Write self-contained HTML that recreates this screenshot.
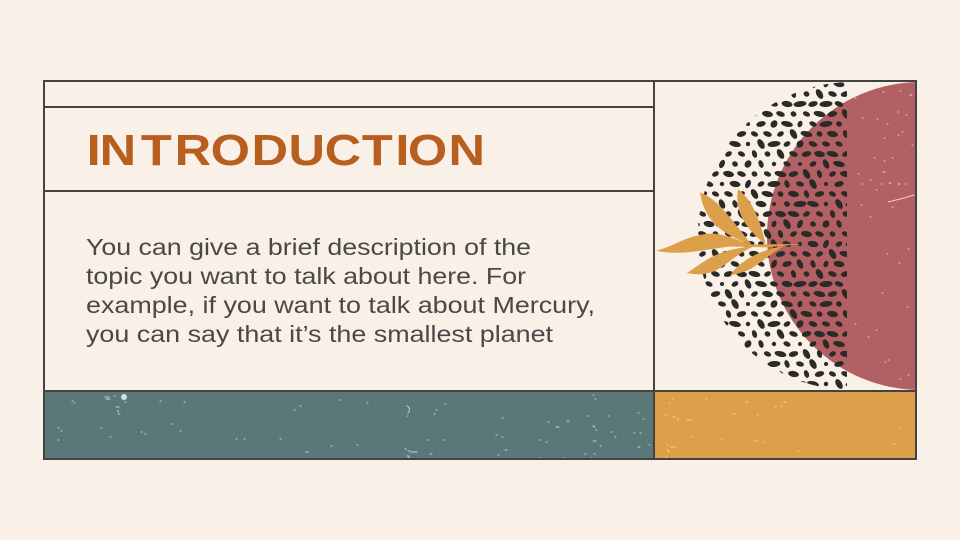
<!DOCTYPE html>
<html lang="en">
<head>
<meta charset="utf-8">
<title>Introduction</title>
<style>
html,body{margin:0;padding:0;width:960px;height:540px;overflow:hidden;background:#f9f0e8}
svg{display:block}
text{font-family:"Liberation Sans",sans-serif}
</style>
</head>
<body>
<svg id="slide" xmlns="http://www.w3.org/2000/svg" width="960" height="540" viewBox="0 0 960 540">
  <defs>
    <clipPath id="spot-clip">
      <path d="M847 82.08 A154 154 0 0 0 847 389.92 Z"/>
    </clipPath>
    <clipPath id="red-clip">
      <rect x="655" y="82" width="260" height="308"/>
    </clipPath>
  </defs>
  <rect width="960" height="540" fill="#f9f0e8"/>
  <path fill="none" stroke="#fdf9f5" stroke-width="1.2" stroke-linecap="round" d="M52 7h1M102 4h1M182 5h2M228 12h1M255 8h1M300 14h2M318 9h1M370 6h1M510 4h2M585 7h1M640 5h2M665 6h1M672 5v3M710 12h2M745 15h2M780 10h2M800 17h1M870 4h1M915 6h2M925 7v2M360 35v5M362 55h2M590 60h2M585 65h3M600 70h1M680 65h1M480 480h6M485 490h3M75 520h2M510 500h2"/>

  <rect x="44" y="391" width="610" height="68" fill="#5b7879"/>
  <rect x="654" y="391" width="262" height="68" fill="#dca04a"/>
  <path fill="none" stroke="#c9d4d2" stroke-width="1" stroke-linecap="round" d="M72 401h1M74 403h1M105 397h4M106 399h4M114 396h1M116 407h3M118 410v2M118 414h2M125 402h1M58 428h1M101 428h1M61 431h1M110 437h1M141 432h1M145 434h1M58 440h1M172 424h1M180 431h1M160 401h1M184 402h1M236 439h1M244 439h1M280 439h1M294 410h1M339 400h1M300 406h1M306 452h2M308 459h1M367 403h1M331 446h1M357 445h1M407 406c3 1 3 5 1 7M407 416h1M409 456v3M405 449h1M408 451h2M407 456h1M411 452h6M408 458h1M430 454h2M436 410h1M434 414h1M445 404h1M427 440h1M444 440h1M496 435h1M502 418h1M502 437h1M498 455h1M505 450h2M540 440h1M548 422h1M556 427h3M567 421h2M546 442h1M563 458h1M585 454h1M540 458h1M587 416h1M593 426h1M593 441h1M595 441h1M600 446h1M594 454h1M591 458h1M608 416h1M596 430h1M594 427h1M593 395h1M595 399h1M615 437h1M640 433h1M638 447h2M649 445h1M611 432h1M643 419h1M638 413h1M634 433h1"/>
  <circle cx="124" cy="397" r="3" fill="#d6dedb"/>
  <path fill="none" stroke="#f2cf97" stroke-width="1.1" stroke-linecap="round" d="M672 399h1M669 403h1M706 399h1M746 402h2M784 402h2M781 406h1M775 407h1M665 415h2M672 417h3M678 418v2M687 420h4M733 414h2M757 415h1M692 437h1M721 439h1M754 441h3M764 442h1M667 445h1M671 447h4M667 449l2 3M798 451h1M666 457h1M882 432h1M900 428h1M893 444h2"/>

  <circle cx="921" cy="236" r="154" fill="#b26063" clip-path="url(#red-clip)"/>
  <g id="spots" clip-path="url(#spot-clip)" fill="#2a2a29"></g>
  <path fill="none" stroke="#e9d0cd" stroke-width="1" stroke-linecap="round" d="M888 202l16-4 10-3M862 118h1M877 119h1M887 124h1M898 112h1M902 132h1M906 115h1M910 95h2M900 91h1M883 92h1M855 98h1M874 158h1M884 138h1M898 135h1M912 145h1M884 161h1M883 172h2M892 158h1M858 174h1M862 184h1M870 180h1M881 184h1M889 183h2M898 184h2M905 184h1M876 190h1M861 205h1M870 217h1M892 207h1M908 249h1M887 254h1M899 263h1M907 307h1M882 293h1M876 330h1M868 337h1M855 324h1M885 362h1M888 360h1M900 379h1M908 375h1"/>
  <g id="leaf-sprig" transform="translate(650 75) scale(.33333)" fill="#dca04a">
    <path d="M18 527C70 516 110 480 180 476C222 474 260 496 310 510C240 510 180 525 130 530C90 535 50 535 18 527Z"/>
    <path d="M110 594C150 572 190 522 312 514C270 530 240 562 200 585C170 600 140 600 110 594Z"/>
    <path d="M240 602C270 556 330 525 405 512C370 530 350 550 320 570C295 590 265 595 240 602Z"/>
    <path d="M150 352C205 372 240 430 305 508C260 495 210 470 180 430C160 400 155 380 150 352Z"/>
    <path d="M264 342C305 375 330 430 347 508C310 480 275 440 266 400C261 380 261 360 264 342Z"/>
    <path d="M230 509L457 507L350 517L230 514Z"/>
  </g>

  <g fill="none" stroke="#464242" stroke-width="2">
    <rect x="44" y="81" width="872" height="378"/>
    <line x1="44" y1="107" x2="654" y2="107"/>
    <line x1="44" y1="191" x2="654" y2="191"/>
    <line x1="44" y1="391" x2="916" y2="391"/>
    <line x1="654" y1="81" x2="654" y2="459"/>
  </g>

  <text transform="scale(1.15 1)" x="75.3 86.6 122.5 151.8 183.2 218.7 250.9 282.3 314.7 343.8 354.7 390" y="165" font-size="44" font-weight="700" fill="#b85f20">INTRODUCTION</text>
  <g font-size="23.5" fill="#4a4848">
    <text x="86" y="255" textLength="445" lengthAdjust="spacingAndGlyphs">You can give a brief description of the</text>
    <text x="86" y="284" textLength="440" lengthAdjust="spacingAndGlyphs">topic you want to talk about here. For</text>
    <text x="86" y="313" textLength="509" lengthAdjust="spacingAndGlyphs">example, if you want to talk about Mercury,</text>
    <text x="86" y="342" textLength="467" lengthAdjust="spacingAndGlyphs">you can say that it’s the smallest planet</text>
  </g>
</svg>
<script>
var spotShapes = [
  [6.5,2.9,-8],[3,2.6,30],[2.8,5,-25],[4.5,2.5,20],[2.2,2.2,0],[5.5,3,10],
  [2.6,4.4,25],[3.6,2.4,-30],[6.5,3,-5],[2.4,4,-20],[4,2.5,15],[3,5.4,-30],
  [2,2,0],[4.8,2.7,-15],[3.2,3.9,35],[6,2.8,12],[2.4,3.3,20],[3.8,2.4,25]
];
var spotGroup = document.getElementById('spots');
var spotRow = 0;
for (var y = 84; y < 392; y += 10) {
  var col = 0;
  for (var x = 696 + (spotRow % 2) * 6.5; x < 854; x += 13) {
    var shape = spotShapes[(col * 7 + spotRow * 11 + col * spotRow * 3) % spotShapes.length];
    var dist = Math.hypot(x - 852, y - 236);
    if (dist < 157) {
      var el = document.createElementNS('http://www.w3.org/2000/svg', 'ellipse');
      
      
      el.setAttribute('cx', x);
      el.setAttribute('cy', y);
      el.setAttribute('rx', shape[0]);
      el.setAttribute('ry', shape[1]);
      el.setAttribute('transform', 'rotate(' + shape[2] + ' ' + x + ' ' + y + ')');
      spotGroup.appendChild(el);
    }
    col++;
  }
  spotRow++;
}
</script>
</body>
</html>
